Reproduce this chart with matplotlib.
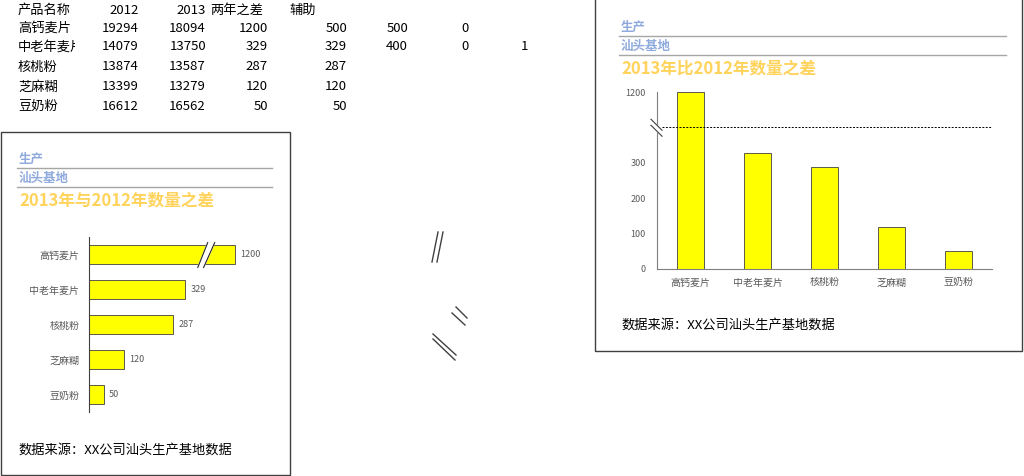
import matplotlib.pyplot as plt
from matplotlib.lines import Line2D
from matplotlib.patches import Rectangle, Polygon
from matplotlib.transforms import Bbox, blended_transform_factory

plt.rcParams['font.family'] = ['Noto Sans CJK SC', 'DejaVu Sans']

# sheet data
products = ['高钙麦片', '中老年麦片', '核桃粉', '芝麻糊', '豆奶粉']
qty_2012 = [19294, 14079, 13874, 13399, 16612]
qty_2013 = [18094, 13750, 13587, 13279, 16562]
diff = [1200, 329, 287, 120, 50]
helper = [500, 329, 287, 120, 50]
extra_cols = [['500', '0', ''], ['400', '0', '1'], ['', '', ''], ['', '', ''], ['', '', '']]
headers = ['产品名称', '2012', '2013', '两年之差', '辅助']
dash_level = 400
break_value = 500

W, H = 1024, 476
BAR = '#FFFF00'
EDGE = '#404040'
GRAY_TXT = '#595959'
BLUE = '#8FAADC'
GOLD = '#FFD35C'


def fx(x):
    return x / W


def fy(y):
    return 1 - y / H


fig = plt.figure(figsize=(W / 100, H / 100), dpi=100)

# ---- spreadsheet cells ----
row_y = [10, 28, 47, 67, 87, 106]
fs = 9.5
fig.text(fx(18), fy(row_y[0]), headers[0], fontsize=fs, va='center')
fig.text(fx(139), fy(row_y[0]), headers[1], fontsize=fs, va='center', ha='right')
fig.text(fx(206), fy(row_y[0]), headers[2], fontsize=fs, va='center', ha='right')
fig.text(fx(210), fy(row_y[0]), headers[3], fontsize=fs, va='center')
fig.text(fx(289), fy(row_y[0]), headers[4], fontsize=fs, va='center')
for i, name in enumerate(products):
    y = fy(row_y[i + 1])
    t = fig.text(fx(18), y, name, fontsize=fs, va='center')
    # cell is cut off by the next filled cell
    t.set_clip_box(Bbox.from_extents(0, 0, 75, H))
    t.set_clip_on(True)
    fig.text(fx(139), y, str(qty_2012[i]), fontsize=fs, va='center', ha='right')
    fig.text(fx(206), y, str(qty_2013[i]), fontsize=fs, va='center', ha='right')
    fig.text(fx(268), y, str(diff[i]), fontsize=fs, va='center', ha='right')
    fig.text(fx(347), y, str(helper[i]), fontsize=fs, va='center', ha='right')
    for xr, val in zip([408, 469, 528], extra_cols[i]):
        fig.text(fx(xr), y, val, fontsize=fs, va='center', ha='right')


def header_block(x0, x1, y_top, title):
    fig.text(fx(x0 + 2), fy(y_top), '生产', fontsize=9, color=BLUE,
             fontweight='bold', va='center')
    fig.add_artist(Line2D([fx(x0), fx(x1)], [fy(y_top + 9)] * 2,
                          color='#A6A6A6', lw=1))
    fig.text(fx(x0 + 2), fy(y_top + 19), '汕头基地', fontsize=9, color=BLUE,
             fontweight='bold', va='center')
    fig.add_artist(Line2D([fx(x0), fx(x1)], [fy(y_top + 28)] * 2,
                          color='#A6A6A6', lw=1))
    fig.text(fx(x0 + 2), fy(y_top + 41), title, fontsize=12, color=GOLD,
             fontweight='bold', va='center')


# ---- left panel: horizontal bars ----
fig.add_artist(Rectangle((fx(0.5), fy(475)), fx(289.5), (475 - 132) / H,
                         fill=False, edgecolor='#404040', lw=1))
header_block(17, 272, 159, '2013年与2012年数量之差')
fig.text(fx(18), fy(450), '数据来源：XX公司汕头生产基地数据', fontsize=9.5, va='center')

axL = fig.add_axes([fx(89), fy(412), (264 - 89) / W, (412 - 237) / H])
pos = range(len(products))
axL.barh(pos, helper, height=0.57, color=BAR, edgecolor=EDGE, lw=0.6)
axL.set_ylim(len(products) - 0.5, -0.5)
axL.set_xlim(0, 600)
axL.set_xticks([])
axL.set_yticks(list(pos))
axL.set_yticklabels(products, fontsize=7.2, color=GRAY_TXT)
axL.tick_params(axis='y', length=0, pad=7)
for s in ['top', 'right', 'bottom']:
    axL.spines[s].set_visible(False)
axL.spines['left'].set_color('#404040')
for i in pos:
    axL.annotate(str(diff[i]), (helper[i], i), xytext=(4, 0), textcoords='offset points',
                 fontsize=6.5, color=GRAY_TXT, va='center')
# break mark on the long bar
bx = [373, 393, 431, 407]
by = [0.37, 0.37, -0.34, -0.34]
axL.add_patch(Polygon(list(zip(bx, by)), closed=True, color='white', zorder=3))
axL.plot([bx[0], bx[3]], [by[0], by[3]], color='#262626', lw=0.8, zorder=4)
axL.plot([bx[1], bx[2]], [by[1], by[2]], color='#262626', lw=0.8, zorder=4)

# ---- right panel: vertical bars ----
fig.add_artist(Rectangle((fx(595), fy(351)), fx(1022 - 595), (351 + 2) / H,
                         fill=False, edgecolor='#404040', lw=1))
header_block(619, 1006, 27, '2013年比2012年数量之差')
fig.text(fx(621), fy(325), '数据来源：XX公司汕头生产基地数据', fontsize=9.5, va='center')

axR = fig.add_axes([fx(657), fy(269), (992 - 657) / W, (269 - 92) / H])
axR.bar(list(pos), helper, width=0.39, color=BAR, edgecolor=EDGE, lw=0.6)
axR.set_xlim(-0.5, len(products) - 0.5)
axR.set_ylim(0, break_value)
axR.set_xticks(list(pos))
axR.set_xticklabels(products, fontsize=7.2, color=GRAY_TXT)
axR.set_yticks([0, 100, 200, 300, break_value])
axR.set_yticklabels(['0', '100', '200', '300', str(diff[0])], fontsize=6.5, color=GRAY_TXT)
axR.tick_params(length=0)
axR.tick_params(axis='y', pad=8)
axR.tick_params(axis='x', pad=6)
for s in ['top', 'right']:
    axR.spines[s].set_visible(False)
for s in ['left', 'bottom']:
    axR.spines[s].set_color('#7F7F7F')
axR.axhline(dash_level, xmin=0.015, xmax=1, color='black', lw=0.7,
            linestyle=(0, (2, 1.5)))
tr = blended_transform_factory(axR.transAxes, axR.transData)
axR.add_patch(Polygon([(-0.018, 423), (-0.018, 406), (0.015, 375), (0.015, 392)],
                      closed=True, color='white', transform=tr, clip_on=False, zorder=3))
axR.plot([-0.018, 0.015], [423, 392], color='#404040', lw=0.8, transform=tr,
         clip_on=False, zorder=4)
axR.plot([-0.018, 0.015], [406, 375], color='#404040', lw=0.8, transform=tr,
         clip_on=False, zorder=4)

# ---- loose break marks drawn on the sheet ----
marks = [((432, 262), (438, 232)), ((437, 262), (443, 232)),
         ((456, 307), (467, 318)), ((452, 313), (465, 325)),
         ((433, 334), (456, 355)), ((433, 339), (455, 360))]
for (x0, y0), (x1, y1) in marks:
    fig.add_artist(Line2D([fx(x0), fx(x1)], [fy(y0), fy(y1)], color='#404040', lw=1))

fig.savefig('out.png', dpi=100, facecolor='white')
